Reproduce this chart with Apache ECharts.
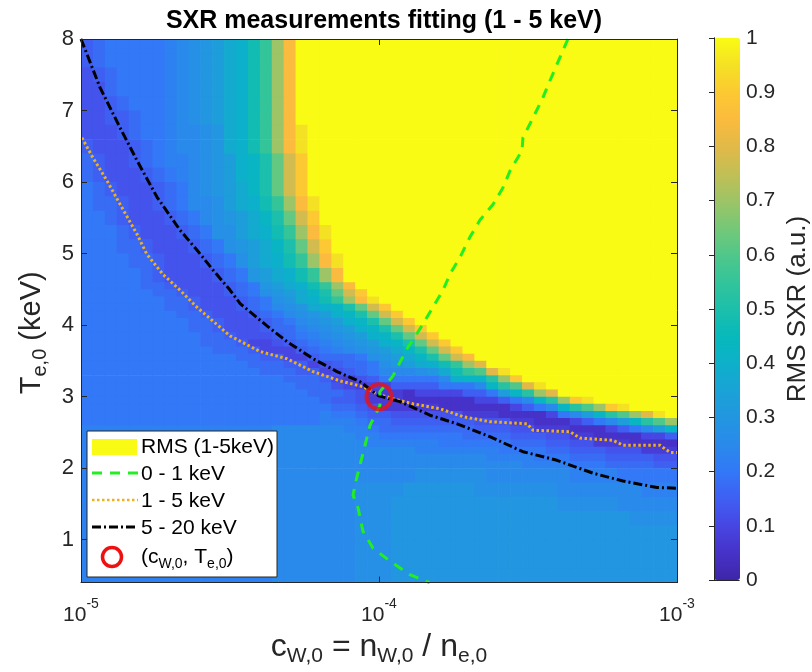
<!DOCTYPE html>
<html><head><meta charset="utf-8">
<script src="https://cdn.jsdelivr.net/npm/echarts@6/dist/echarts.min.js"></script>
<style>html,body{margin:0;padding:0;background:#fff}#c{width:812px;height:672px}</style>
</head><body><div id="c"></div>
<script>
// ---------- DATA ----------
// heat-map rows, top (T=8) to bottom (T=0.4); each char = RMS level, index/40 in LEVELS
const LEVELS = "0123456789abcdefghijklmnopqrstuvwxyzABCDE";
const T_EDGES = [8.0,7.8,7.6,7.4,7.2,7.0,6.8,6.6,6.4,6.2,6.0,5.8,5.6,5.4,5.2,5.0,4.8,4.6,
  4.5,4.4,4.3,4.2,4.1,4.0,3.9,3.8,3.7,3.6,3.5,3.4,3.3,3.2,3.1,3.0,2.9,2.8,2.7,2.6,2.5,2.4,2.3,2.2,2.1,2.0,
  1.8,1.6,1.4,1.2,1.0,0.8,0.6,0.4];
const LOGC_EDGES = Array.from({length: 51}, (_, k) => -5 + 0.04 * k);
const HEAT_ROWS = [
"67888889ab cdfgjmsyEE EEEEEEEEEE EEEEEEEEEE EEEEEEEEEE",
"67888889ab cdfgjmsyEE EEEEEEEEEE EEEEEEEEEE EEEEEEEEEE",
"56788889ab cdfgjmsyEE EEEEEEEEEE EEEEEEEEEE EEEEEEEEEE",
"55788889ab cdfgjmsyEE EEEEEEEEEE EEEEEEEEEE EEEEEEEEEE",
"55678889ab cdfgjmsyEE EEEEEEEEEE EEEEEEEEEE EEEEEEEEEE",
"55667889ab cdfgjmsyEE EEEEEEEEEE EEEEEEEEEE EEEEEEEEEE",
"55567889aa bcfgjmsyCE EEEEEEEEEE EEEEEEEEEE EEEEEEEEEE",
"65556789aa bcfgjmsyCE EEEEEEEEEE EEEEEEEEEE EEEEEEEEEE",
"765567899a bcdghkpvAE EEEEEEEEEE EEEEEEEEEE EEEEEEEEEE",
"765556789a bcdghkpvAE EEEEEEEEEE EEEEEEEEEE EEEEEEEEEE",
"876555678a bcdfhkpvAE EEEEEEEEEE EEEEEEEEEE EEEEEEEEEE",
"877655678a abdfgjmsyC EEEEEEEEEE EEEEEEEEEE EEEEEEEEEE",
"8876555678 abcdfhkpvA EEEEEEEEEE EEEEEEEEEE EEEEEEEEEE",
"8887655567 8bbdfgjmsy CEEEEEEEEE EEEEEEEEEE EEEEEEEEEE",
"8887765556 78bcdfhkpv AEEEEEEEEE EEEEEEEEEE EEEEEEEEEE",
"8888776555 678bdfgjms yCEEEEEEEE EEEEEEEEEE EEEEEEEEEE",
"8888876555 5678cdfgjm syEEEEEEEE EEEEEEEEEE EEEEEEEEEE",
"8888877655 55678cdfgj msyEEEEEEE EEEEEEEEEE EEEEEEEEEE",
"8888887765 55678bcdfh kpvAEEEEEE EEEEEEEEEE EEEEEEEEEE",
"8888888776 555678bcfg jmsyCEEEEE EEEEEEEEEE EEEEEEEEEE",
"8888888776 555678abcf ghkpvAEEEE EEEEEEEEEE EEEEEEEEEE",
"8888888877 6555678abc dghkpvAEEE EEEEEEEEEE EEEEEEEEEE",
"8888888887 76555678ab cdghkpvAEE EEEEEEEEEE EEEEEEEEEE",
"8888888887 765556779a bcdghkpvAE EEEEEEEEEE EEEEEEEEEE",
"8888888888 7765556789 abcdghkpvA EEEEEEEEEE EEEEEEEEEE",
"8888888888 7776445678 9abcdghkpv AEEEEEEEEE EEEEEEEEEE",
"8888888888 8777644467 89abcdfhkp vAEEEEEEEE EEEEEEEEEE",
"8888888888 8887766446 7778bcdfhk pvyEEEEEEE EEEEEEEEEE",
"8888888888 8888777664 56778bcdfg jmswEEEEEE EEEEEEEEEE",
"8888888888 8888877766 45678aaabc fjmowCEEEE EEEEEEEEEE",
"8888888888 8888888777 6435688888 aghhlsAEEE EEEEEEEEEE",
"8888888888 8888888877 7543446666 888ahlowCE EEEEEEEEEE",
"8888888888 8888888887 7765333244 44668dhlsw EEEEEEEEEE",
"8888888888 8888888888 7665333222 2224468ahl sACEEEEEEE",
"8888888888 8888888888 8776533333 222222468a hlosACEEEE",
"8888888888 8888888888 9887665555 5533322224 8adhloswCE",
"8888888888 8888888888 9998776666 6665553322 2468adhlos",
"9999999999 999999aaaa aa99877777 7776665533 3222468adh",
"9999999999 999999aaaa aaa9988888 8877776665 5332222446",
"9999999999 999999aaaa aaaa999999 8888887776 6553332222",
"9999999999 999999aaaa aaaaaaaa99 9999988887 7666555333",
"9999999999 999999aaaa aaaaaaaaaa aaaa999988 8777666655",
"9999999999 999999aaaa aaaaaaaaaa aaaaaaa999 9888777766",
"9999999999 999999aaaa aaaaaaaabb bbbbaaaaaa a999988888",
"9999999999 999999aaaa aaabbbbccc cccbbbbbbb aaaaaaa999",
"9999999999 999999aaaa aaabbbcccc cccccccccc bbbbbaaaaa",
"9999999999 999999aaaa aaabbbcccc cccccccccc ccccccbbbb",
"9999999999 999999aaaa aaabbbcccc cccccccccc cccccccccc",
"9999999999 999999aaaa aaabbbcccc cccccccccc cccccccccc",
"9999999999 999999aaaa aaabbbcccc cccccccccc cccccccccc",
"9999999999 999999aaaa aaabbbcccc cccccccccc cccccccccc"
];
// contour lines: [log10(c_W,0), T_e,0 (keV)]
const LINE_5_20 = [[-5.000,8.00],[-4.936,7.32],[-4.869,6.76],[-4.812,6.30],[-4.745,5.79],[-4.668,5.33],
  [-4.611,5.05],[-4.557,4.77],[-4.500,4.49],[-4.466,4.30],[-4.376,3.99],[-4.309,3.77],[-4.221,3.53],
  [-4.141,3.35],[-4.064,3.21],[-4.020,3.07],[-4.000,3.01],[-3.930,2.93],[-3.829,2.74],[-3.738,2.62],
  [-3.628,2.44],[-3.517,2.23],[-3.403,2.11],[-3.282,1.93],[-3.181,1.82],[-3.067,1.73],[-3.000,1.72]];
const LINE_1_5 = [[-4.997,6.62],[-4.960,6.34],[-4.913,6.02],[-4.869,5.69],[-4.812,5.27],[-4.779,4.99],
  [-4.725,4.71],[-4.668,4.49],[-4.611,4.25],[-4.500,3.85],[-4.399,3.63],[-4.309,3.53],[-4.221,3.35],
  [-4.131,3.22],[-4.054,3.14],[-4.007,3.04],[-3.953,2.97],[-3.886,2.90],[-3.795,2.83],[-3.718,2.72],
  [-3.628,2.65],[-3.503,2.62],[-3.483,2.53],[-3.359,2.51],[-3.326,2.42],[-3.215,2.39],[-3.181,2.32],
  [-3.057,2.32],[-3.023,2.22],[-3.000,2.22]];
const LINE_0_1 = [[-3.366,8.00],[-3.393,7.74],[-3.426,7.42],[-3.450,7.18],[-3.483,6.90],[-3.517,6.62],
  [-3.520,6.44],[-3.560,6.16],[-3.584,5.92],[-3.617,5.69],[-3.661,5.47],[-3.695,5.23],[-3.728,4.95],
  [-3.762,4.71],[-3.785,4.49],[-3.819,4.25],[-3.862,3.95],[-3.906,3.67],[-3.953,3.29],[-3.997,3.07],
  [-3.997,2.87],[-4.030,2.60],[-4.047,2.32],[-4.064,2.04],[-4.081,1.76],[-4.087,1.62],[-4.070,1.44],
  [-4.054,1.12],[-4.020,0.88],[-3.963,0.70],[-3.896,0.51],[-3.830,0.40]];
const REF_POINT = [[-4.0, 3.0]];
const Y_TICKS = [1,2,3,4,5,6,7,8];
const CB_TICKS = [0,0.1,0.2,0.3,0.4,0.5,0.6,0.7,0.8,0.9,1];

// ---------- STYLE ----------
const FONT = 'Liberation Sans';
const INK = '#262626';
const PARULA = ['#3e26a8','#4632c8','#4746e3','#3f5ff3','#3278f7','#2a8aeb','#2296e0','#1aa3d6',
  '#0db0ca','#07b9bb','#1cbfab','#33c49a','#50c78a','#76c877','#9dc466','#c2bf55','#e2b948',
  '#fbbb3e','#fcc932','#f5e124','#f9fb14'];

const cells = [];
HEAT_ROWS.forEach((row, r) => {
  const s = row.replace(/ /g, '');
  for (let i = 0; i < s.length; i++) {
    cells.push([Math.pow(10, LOGC_EDGES[i]), Math.pow(10, LOGC_EDGES[i + 1]),
      T_EDGES[r + 1], T_EDGES[r], LEVELS.indexOf(s[i]) / 40]);
  }
});
const toXY = arr => arr.map(p => [Math.pow(10, p[0]), p[1]]);

const tickRich = {
  b: {fontSize: 21, fontFamily: FONT, color: INK, lineHeight: 36},
  p: {fontSize: 14, fontFamily: FONT, color: INK, lineHeight: 16, verticalAlign: 'top'}
};
const nameRich = {
  b: {fontSize: 32, fontFamily: FONT, color: INK, lineHeight: 40},
  s: {fontSize: 21, fontFamily: FONT, color: INK, lineHeight: 21, verticalAlign: 'bottom'}
};
const yNameRich = {
  b: {fontSize: 29, fontFamily: FONT, color: INK, lineHeight: 38},
  s: {fontSize: 20, fontFamily: FONT, color: INK, lineHeight: 20, verticalAlign: 'bottom'}
};
const legRich = {
  b: {fontSize: 21, fontFamily: FONT, color: '#000', lineHeight: 28},
  s: {fontSize: 14, fontFamily: FONT, color: '#000', lineHeight: 14, verticalAlign: 'bottom'}
};

const chart = echarts.init(document.getElementById('c'), null, {renderer: 'canvas'});
chart.setOption({
  animation: false,
  backgroundColor: '#ffffff',
  title: {
    text: 'SXR measurements fitting (1 - 5 keV)', left: 379, top: 4, textAlign: 'center',
    textStyle: {fontSize: 25, fontWeight: 'bold', fontFamily: FONT, color: '#000'}
  },
  grid: [
    {left: 81, top: 39, width: 596, height: 544},
    {left: 714, top: 38, width: 26, height: 542}
  ],
  xAxis: [
    {type: 'log', logBase: 10, min: 1e-5, max: 1e-3, gridIndex: 0, position: 'bottom', z: 10,
     axisLine: {show: true, lineStyle: {color: INK, width: 1}},
     axisTick: {show: true, inside: true, length: 6, lineStyle: {color: INK}},
     splitLine: {show: false},
     axisLabel: {margin: 15, formatter: v => '{b|10}{p|' + Math.round(Math.log10(v)) + '}', rich: tickRich},
     name: '{b|c}{s|W,0}{b| = n}{s|W,0}{b| / n}{s|e,0}', nameLocation: 'middle', nameGap: 43,
     nameTextStyle: {rich: nameRich}},
    {type: 'log', logBase: 10, min: 1e-5, max: 1e-3, gridIndex: 0, position: 'top', z: 10,
     axisLine: {show: true, lineStyle: {color: INK, width: 1}},
     axisTick: {show: true, inside: true, length: 6, lineStyle: {color: INK}},
     axisLabel: {show: false}, splitLine: {show: false}},
    {type: 'value', gridIndex: 1, position: 'bottom', min: 0, max: 1, z: 10,
     axisLine: {show: true, lineStyle: {color: INK}}, axisTick: {show: false}, axisLabel: {show: false}, splitLine: {show: false}},
    {type: 'value', gridIndex: 1, position: 'top', min: 0, max: 1, z: 10,
     axisLine: {show: true, lineStyle: {color: INK}}, axisTick: {show: false}, axisLabel: {show: false}, splitLine: {show: false}}
  ],
  yAxis: [
    {type: 'value', min: 0.4, max: 8, gridIndex: 0, position: 'left', z: 10,
     axisLine: {show: true, lineStyle: {color: INK, width: 1}},
     axisTick: {show: true, inside: true, length: 6, lineStyle: {color: INK}, customValues: Y_TICKS},
     axisLabel: {margin: 7, fontSize: 22, fontFamily: FONT, color: INK, customValues: Y_TICKS},
     splitLine: {show: false},
     name: '{b|T}{s|e,0}{b| (keV)}', nameLocation: 'middle', nameGap: 23, nameRotate: 90,
     nameTextStyle: {rich: yNameRich, padding: [0, 44, 0, 0]}},
    {type: 'value', min: 0.4, max: 8, gridIndex: 0, position: 'right', z: 10,
     axisLine: {show: true, lineStyle: {color: INK, width: 1}},
     axisTick: {show: true, inside: true, length: 6, lineStyle: {color: INK}, customValues: Y_TICKS},
     axisLabel: {show: false}, splitLine: {show: false}},
    {type: 'value', min: 0, max: 1, gridIndex: 1, position: 'right', z: 10,
     axisLine: {show: true, lineStyle: {color: INK}},
     axisTick: {show: true, inside: true, length: 5, lineStyle: {color: INK}, customValues: CB_TICKS},
     axisLabel: {margin: 7, fontSize: 21, fontFamily: FONT, color: INK, customValues: CB_TICKS,
       formatter: v => String(Math.round(v * 10) / 10)},
     splitLine: {show: false},
     name: 'RMS SXR (a.u.)', nameLocation: 'middle', nameGap: 46, nameRotate: 90,
     nameTextStyle: {fontSize: 26, fontFamily: FONT, color: INK}},
    {type: 'value', min: 0, max: 1, gridIndex: 1, position: 'left', z: 10,
     axisLine: {show: true, lineStyle: {color: INK}}, axisTick: {show: false}, axisLabel: {show: false}, splitLine: {show: false}}
  ],
  visualMap: {
    type: 'continuous', min: 0, max: 1, dimension: 4, seriesIndex: 0,
    calculable: false, hoverLink: false, left: 714, top: 38, padding: 0,
    itemWidth: 26, itemHeight: 542, text: null, inRange: {color: PARULA}
  },
  series: [
    {type: 'custom', xAxisIndex: 0, yAxisIndex: 0, data: cells, silent: true, clip: true, z: 1,
     encode: {x: [0, 1], y: [2, 3]},
     renderItem: (params, api) => {
       const p0 = api.coord([api.value(0), api.value(3)]);
       const p1 = api.coord([api.value(1), api.value(2)]);
       return {type: 'rect', shape: {x: p0[0], y: p0[1], width: p1[0] - p0[0] + 0.7, height: p1[1] - p0[1] + 0.7},
               style: {fill: api.visual('color')}};
     }},
    {type: 'line', xAxisIndex: 0, yAxisIndex: 0, data: toXY(LINE_1_5), showSymbol: false, z: 3, silent: true,
     lineStyle: {color: '#EDB120', width: 3, type: [2.5, 2.5]}},
    {type: 'line', xAxisIndex: 0, yAxisIndex: 0, data: toXY(LINE_5_20), showSymbol: false, z: 4, silent: true,
     lineStyle: {color: '#000000', width: 3, type: [9, 3, 2, 3]}},
    {type: 'line', xAxisIndex: 0, yAxisIndex: 0, data: toXY(LINE_0_1), showSymbol: false, z: 5, silent: true,
     lineStyle: {color: '#22ee22', width: 3, type: [10, 8]}},
    {type: 'scatter', xAxisIndex: 0, yAxisIndex: 0, data: toXY(REF_POINT), symbol: 'circle', symbolSize: 25, z: 6, silent: true,
     itemStyle: {color: 'rgba(0,0,0,0)', borderColor: '#ee1111', borderWidth: 4}}
  ],
  graphic: [
    {type: 'rect', z: 100, shape: {x: 87, y: 431, width: 190, height: 146}, style: {fill: '#ffffff', stroke: INK, lineWidth: 1}},
    {type: 'rect', z: 101, shape: {x: 92, y: 439, width: 45, height: 16}, style: {fill: '#f9fb14'}},
    {type: 'text', z: 101, x: 141, y: 447, style: {text: 'RMS (1-5keV)', fontSize: 21, fontFamily: FONT, fill: '#000', verticalAlign: 'middle', textVerticalAlign: 'middle'}},
    {type: 'line', z: 101, shape: {x1: 92, y1: 473, x2: 138, y2: 473}, style: {stroke: '#22ee22', lineWidth: 3, lineDash: [10, 8]}},
    {type: 'text', z: 101, x: 141, y: 474, style: {text: '0 - 1 keV', fontSize: 21, fontFamily: FONT, fill: '#000', verticalAlign: 'middle', textVerticalAlign: 'middle'}},
    {type: 'line', z: 101, shape: {x1: 92, y1: 500, x2: 138, y2: 500}, style: {stroke: '#EDB120', lineWidth: 2.5, lineDash: [2.5, 2.5]}},
    {type: 'text', z: 101, x: 141, y: 501, style: {text: '1 - 5 keV', fontSize: 21, fontFamily: FONT, fill: '#000', verticalAlign: 'middle', textVerticalAlign: 'middle'}},
    {type: 'line', z: 101, shape: {x1: 92, y1: 527, x2: 138, y2: 527}, style: {stroke: '#000', lineWidth: 3, lineDash: [9, 3, 2, 3]}},
    {type: 'text', z: 101, x: 141, y: 528, style: {text: '5 - 20 keV', fontSize: 21, fontFamily: FONT, fill: '#000', verticalAlign: 'middle', textVerticalAlign: 'middle'}},
    {type: 'circle', z: 101, shape: {cx: 112, cy: 557, r: 9.5}, style: {fill: 'none', stroke: '#ee1111', lineWidth: 3.5}},
    {type: 'text', z: 101, x: 141, y: 557, style: {text: '{b|(c}{s|W,0}{b|, T}{s|e,0}{b|)}', rich: legRich, verticalAlign: 'middle', textVerticalAlign: 'middle'}}
  ]
});
</script></body></html>
